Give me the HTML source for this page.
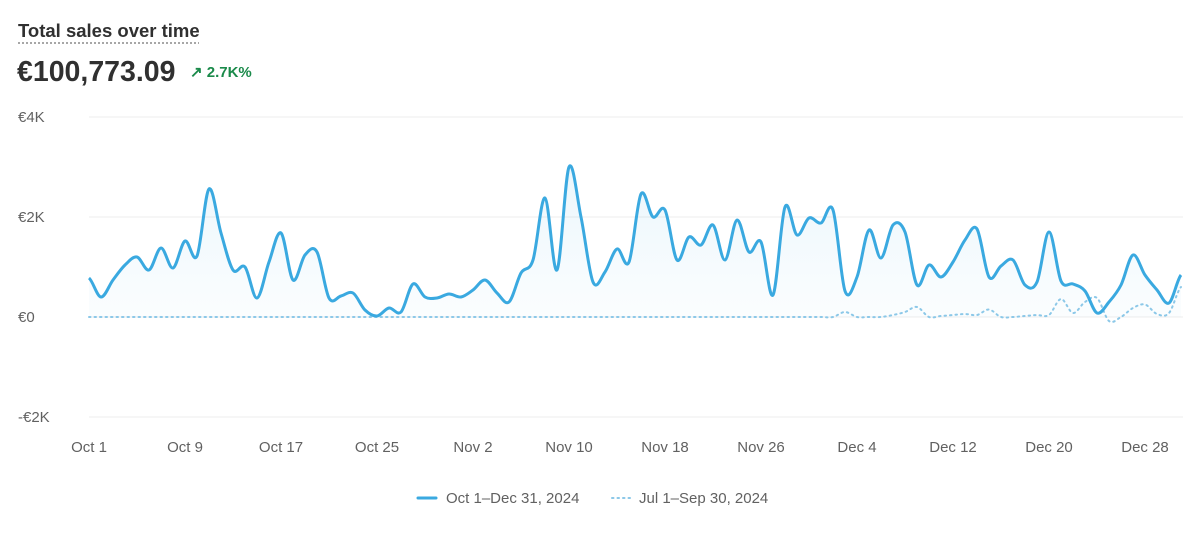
<!DOCTYPE html>
<html><head><meta charset="utf-8"><style>
body{margin:0;background:#fff;font-family:"Liberation Sans",sans-serif;}
#wrap{position:relative;width:1200px;height:533px;overflow:hidden;}
</style></head><body>
<div id="wrap">
<svg id="chart" width="1200" height="533">
<defs><linearGradient id="g" x1="0" y1="0" x2="0" y2="1"><stop offset="0" stop-color="#3aa9e0" stop-opacity="0.10"/><stop offset="1" stop-color="#3aa9e0" stop-opacity="0.02"/></linearGradient></defs>
<text x="18" y="37" font-size="18.5" font-weight="bold" fill="#303030">Total sales over time</text>
<line x1="18" y1="43" x2="199" y2="43" stroke="#8a8a8a" stroke-width="1.5" stroke-dasharray="2,2"/>
<text x="17" y="81" font-size="28.5" font-weight="bold" fill="#303030">€100,773.09</text>
<text x="190" y="77" font-size="15" font-weight="bold" fill="#1a8a4a">↗ 2.7K%</text>
<g id="grid"></g><g id="marks"></g><g id="xt"></g>
<g>
<line x1="418" y1="498" x2="436" y2="498" stroke="#3aa9e0" stroke-width="3" stroke-linecap="round"/>
<text x="446" y="503" font-size="15" fill="#616161">Oct 1–Dec 31, 2024</text>
<line x1="612" y1="498" x2="630" y2="498" stroke="#8cc8e8" stroke-width="2" stroke-dasharray="1.5,4" stroke-linecap="round"/>
<text x="639" y="503" font-size="15" fill="#616161">Jul 1–Sep 30, 2024</text>
</g>
</svg></div>
<script>
const current=[780,400,740,1040,1200,940,1380,980,1520,1220,2560,1680,940,1000,380,1100,1680,740,1240,1300,380,420,480,140,20,180,100,660,400,380,460,400,540,740,480,300,880,1140,2380,940,3000,2000,700,900,1360,1100,2460,2000,2140,1140,1600,1440,1840,1140,1940,1300,1500,440,2200,1640,1980,1880,2140,520,800,1740,1180,1840,1700,640,1040,800,1100,1540,1760,800,1020,1140,640,700,1700,720,660,520,80,300,640,1240,840,540,280,840];
const previous=[0,0,0,0,0,0,0,0,0,0,0,0,0,0,0,0,0,0,0,0,0,0,0,0,0,0,0,0,0,0,0,0,0,0,0,0,0,0,0,0,0,0,0,0,0,0,0,0,0,0,0,0,0,0,0,0,0,0,0,0,0,0,0,100,0,0,0,40,100,200,0,20,40,60,40,150,0,0,20,40,40,360,80,300,380,-80,0,180,250,60,80,600];
const yTicks=[4000,2000,0,-2000];
const yLabels=["€4K","€2K","€0","-€2K"];
const xTickIdx=[0,8,16,24,32,40,48,56,64,72,80,88];
const xLabels=["Oct 1","Oct 9","Oct 17","Oct 25","Nov 2","Nov 10","Nov 18","Nov 26","Dec 4","Dec 12","Dec 20","Dec 28"];
const X0=89,X1=1181,n=current.length;
const xs=i=>X0+(X1-X0)*i/(n-1);
const ys=v=>317-v*0.05;
const NS="http://www.w3.org/2000/svg";
function mk(t,a,p){const e=document.createElementNS(NS,t);for(const k in a)e.setAttribute(k,a[k]);p.appendChild(e);return e;}
function path(d){let s=`M${xs(0)},${ys(d[0])}`;for(let i=0;i<d.length-1;i++){const p0=d[Math.max(0,i-1)],p1=d[i],p2=d[i+1],p3=d[Math.min(d.length-1,i+2)];
const x1=xs(i),x2=xs(i+1),dx=(x2-x1)/3;s+=` C${x1+dx},${ys(p1+(p2-p0)/6)} ${x2-dx},${ys(p2-(p3-p1)/6)} ${x2},${ys(p2)}`;}return s;}
const grid=document.getElementById('grid'),marks=document.getElementById('marks'),xt=document.getElementById('xt');
yTicks.forEach((v,i)=>{
const l=mk('line',{x1:X0,x2:1183,y1:ys(v),y2:ys(v),stroke:'#ececec','stroke-width':1},grid);


const t=mk('text',{x:18,y:ys(v)+5,'font-size':15,fill:'#616161'},grid);t.textContent=yLabels[i];


});
xTickIdx.forEach((k,i)=>{
const t=mk('text',{x:xs(k),y:452,'font-size':15,fill:'#616161','text-anchor':'middle'},xt);t.textContent=xLabels[i];


});
const dm=path(current);
const area=mk('path',{d:dm+` L${xs(n-1)},${ys(0)} L${xs(0)},${ys(0)} Z`,fill:'url(#g)'},marks);


const pl=mk('path',{d:path(previous),fill:'none',stroke:'#8cc8e8','stroke-width':2,'stroke-dasharray':'1.5,4','stroke-linecap':'round'},marks);


const cl=mk('path',{d:dm,fill:'none',stroke:'#3aa9e0','stroke-width':3,'stroke-linejoin':'round'},marks);


</script>
</body></html>
